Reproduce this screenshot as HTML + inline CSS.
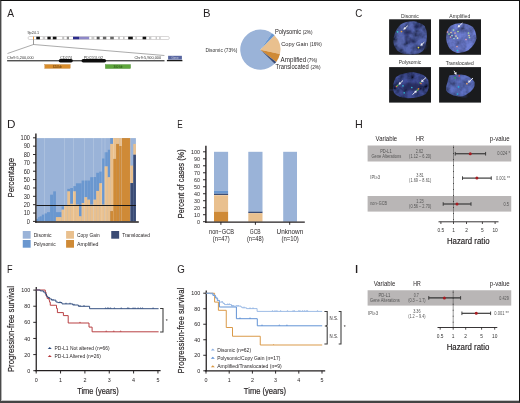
<!DOCTYPE html>
<html><head><meta charset="utf-8"><style>
html,body{margin:0;padding:0;background:#fff;}
body{width:520px;height:403px;overflow:hidden;position:relative;font-family:"Liberation Sans", sans-serif;}
svg{position:absolute;left:0;top:0;will-change:transform;}
svg text{font-family:"Liberation Sans", sans-serif;}
.frame{position:absolute;left:0;top:0;width:520px;height:403px;box-sizing:border-box;border-top:1px solid #111;border-right:1.3px solid #111;border-bottom:2px solid #444;border-left:1px solid #4a4a4a;}
.fl{position:absolute;left:1px;top:1px;width:1px;height:400px;background:#b4b4b4;}
.fb{position:absolute;left:1px;top:400px;width:518px;height:1px;background:#c4c4c4;}
</style></head><body>
<svg width="520" height="403" viewBox="0 0 520 403" fill="#231f20">
<text transform="translate(7.16,16.7) scale(0.88,1)" font-size="11.6">A</text>
<text transform="translate(202.99,16.75) scale(0.975,1)" font-size="11.6">B</text>
<text transform="translate(355.25,16.75) scale(0.846,1)" font-size="11.6">C</text>
<text transform="translate(6.96,127.8) scale(1.01,1)" font-size="11.6">D</text>
<text transform="translate(177.25,127.9) scale(0.707,1)" font-size="11.6">E</text>
<text transform="translate(355.04,127.9) scale(0.93,1)" font-size="11.6">H</text>
<text transform="translate(7.03,272.7) scale(0.786,1)" font-size="11.6">F</text>
<text transform="translate(177.25,272.6) scale(0.84,1)" font-size="11.6">G</text>
<text transform="translate(354.55,272.8) scale(1.3,1)" font-size="11.6">I</text>
<text x="27.50" y="34.00" font-size="4.2" fill="#333" textLength="11.5" lengthAdjust="spacingAndGlyphs">9p24.1</text>
<rect x="28" y="36.5" width="141.4" height="3" rx="1.5" fill="#fff" stroke="#a09a9a" stroke-width="0.4"/>
<rect x="36.30" y="36.70" width="3.60" height="2.60" fill="#111"/>
<rect x="42.70" y="36.70" width="2.50" height="2.60" fill="#c8c8c8"/>
<rect x="47.40" y="36.70" width="3.30" height="2.60" fill="#111"/>
<rect x="52.80" y="36.70" width="3.70" height="2.60" fill="#111"/>
<rect x="62.20" y="36.70" width="2.00" height="2.60" fill="#c0c0c0"/>
<rect x="66.80" y="36.70" width="2.20" height="2.60" fill="#8a8a8a"/>
<rect x="73.00" y="36.70" width="6.00" height="2.60" fill="#2c2c8c"/>
<rect x="79.00" y="36.70" width="10.20" height="2.60" fill="#8e88c8"/>
<rect x="91.40" y="36.70" width="2.90" height="2.60" fill="#c8c8c8"/>
<rect x="96.70" y="36.70" width="2.90" height="2.60" fill="#555"/>
<rect x="102.90" y="36.70" width="3.40" height="2.60" fill="#666"/>
<rect x="110.20" y="36.70" width="3.60" height="2.60" fill="#666"/>
<rect x="118.00" y="36.70" width="2.00" height="2.60" fill="#c0c0c0"/>
<rect x="123.00" y="36.70" width="1.60" height="2.60" fill="#c0c0c0"/>
<rect x="128.20" y="36.70" width="4.60" height="2.60" fill="#111"/>
<rect x="135.40" y="36.70" width="1.40" height="2.60" fill="#c0c0c0"/>
<rect x="142.60" y="36.70" width="3.60" height="2.60" fill="#111"/>
<rect x="149.00" y="36.70" width="2.30" height="2.60" fill="#c8c8c8"/>
<rect x="155.60" y="36.70" width="1.40" height="2.60" fill="#c8c8c8"/>
<rect x="159.20" y="36.70" width="1.50" height="2.60" fill="#c8c8c8"/>
<rect x="33.00" y="36.60" width="0.90" height="2.80" fill="#e88a20"/>
<line x1="33.50" y1="39.50" x2="33.50" y2="44.50" stroke="#333" stroke-width="0.5"/>
<line x1="33.50" y1="44.50" x2="7.50" y2="53.50" stroke="#444" stroke-width="0.45"/>
<line x1="33.50" y1="44.50" x2="164.40" y2="55.50" stroke="#444" stroke-width="0.45"/>
<text x="7.10" y="58.50" font-size="4.0" fill="#333" textLength="26.6" lengthAdjust="spacingAndGlyphs">Chr9:5,200,000</text>
<text x="60.00" y="58.50" font-size="4.0" fill="#333" textLength="12.0" lengthAdjust="spacingAndGlyphs">CD274</text>
<text x="83.80" y="58.50" font-size="4.0" fill="#333" textLength="19.2" lengthAdjust="spacingAndGlyphs">PDCD1LG2</text>
<text x="134.40" y="58.50" font-size="4.0" fill="#333" textLength="26.8" lengthAdjust="spacingAndGlyphs">Chr9:5,900,000</text>
<rect x="7.10" y="60.05" width="157.40" height="1.35" fill="#4a4a4a"/>
<rect x="58.7" y="59.1" width="14.1" height="3.4" rx="1.7" fill="#0d0d0d"/>
<rect x="81.5" y="59.1" width="24.6" height="3.4" rx="1.7" fill="#0d0d0d"/>
<rect x="44.8" y="64.5" width="25.4" height="3.9" fill="#d98d2b" stroke="#b36d1b" stroke-width="0.3"/>
<text x="57.20" y="67.50" font-size="2.9" text-anchor="middle" fill="#4a2a05" textLength="8.8" lengthAdjust="spacingAndGlyphs">324 kb</text>
<rect x="105.3" y="64.5" width="25.3" height="4.1" fill="#5ea63c" stroke="#3e7e26" stroke-width="0.3"/>
<text x="118.00" y="67.60" font-size="2.9" text-anchor="middle" fill="#1f4a10" textLength="8.8" lengthAdjust="spacingAndGlyphs">300 kb</text>
<rect x="166.90" y="59.90" width="15.50" height="1.35" fill="#1a1a1a"/>
<rect x="168.10" y="55.80" width="13.80" height="3.80" fill="#5866a0"/>
<text x="175.00" y="58.60" font-size="2.6" text-anchor="middle" fill="#c8cce0" textLength="7" lengthAdjust="spacingAndGlyphs">Gene</text>
<path d="M260.35,49.65 L274.56,63.86 A20.1,20.1 0 1 1 271.94,33.23 Z" fill="#9ab3d8"/>
<path d="M260.35,49.65 L271.88,33.19 A20.1,20.1 0 0 1 274.64,35.51 Z" fill="#6a97cf"/>
<path d="M260.35,49.65 L274.56,35.44 A20.1,20.1 0 0 1 279.97,54.03 Z" fill="#e9c08e"/>
<path d="M260.35,49.65 L279.97,54.03 A20.1,20.1 0 0 1 276.23,61.97 Z" fill="#cf8a36"/>
<path d="M260.35,49.65 L276.23,61.97 A20.1,20.1 0 0 1 274.56,63.86 Z" fill="#3a4b74"/>
<text x="205.40" y="52.00" font-size="4.9" fill="#333" textLength="31.9" lengthAdjust="spacingAndGlyphs">Disomic (73%)</text>
<text x="275.00" y="33.60" font-size="6.3" textLength="26.2" lengthAdjust="spacingAndGlyphs">Polysomic</text>
<text x="302.70" y="33.60" font-size="5.2" textLength="9.8" lengthAdjust="spacingAndGlyphs">(2%)</text>
<text x="281.20" y="46.00" font-size="6.2" textLength="26.9" lengthAdjust="spacingAndGlyphs">Copy Gain</text>
<text x="309.70" y="46.00" font-size="5.2" textLength="12.2" lengthAdjust="spacingAndGlyphs">(16%)</text>
<text x="280.60" y="61.80" font-size="6.3" textLength="25.6" lengthAdjust="spacingAndGlyphs">Amplified</text>
<text x="307.20" y="61.80" font-size="5.2" textLength="10.0" lengthAdjust="spacingAndGlyphs">(7%)</text>
<text x="275.60" y="69.30" font-size="6.3" textLength="33.1" lengthAdjust="spacingAndGlyphs">Translocated</text>
<text x="310.60" y="69.30" font-size="5.2" textLength="10.0" lengthAdjust="spacingAndGlyphs">(2%)</text>
<defs>
<filter id="bl" x="-50%" y="-50%" width="200%" height="200%"><feGaussianBlur stdDeviation="1.0"/></filter>
<filter id="tex1" x="-10%" y="-10%" width="120%" height="120%">
 <feTurbulence type="fractalNoise" baseFrequency="0.13" numOctaves="3" seed="4" result="n"/>
 <feColorMatrix in="n" type="matrix" values="1.9 0 0 0 -0.28  1.9 0 0 0 -0.28  1.9 0 0 0 -0.28  0 0 0 0 1" result="g"/>
 <feComposite in="SourceGraphic" in2="g" operator="arithmetic" k1="1" k2="0" k3="0" k4="0" result="c"/>
 <feGaussianBlur in="c" stdDeviation="0.75"/>
</filter>
<filter id="tex2" x="-10%" y="-10%" width="120%" height="120%">
 <feTurbulence type="fractalNoise" baseFrequency="0.15" numOctaves="3" seed="11" result="n"/>
 <feColorMatrix in="n" type="matrix" values="1.2 0 0 0 0.12  1.2 0 0 0 0.12  1.2 0 0 0 0.12  0 0 0 0 1" result="g"/>
 <feComposite in="SourceGraphic" in2="g" operator="arithmetic" k1="1" k2="0" k3="0" k4="0" result="c"/>
 <feGaussianBlur in="c" stdDeviation="0.6"/>
</filter>
</defs>
<rect x="389.10" y="19.30" width="41.90" height="35.50" fill="#1a1b1d"/>
<svg x="389.1" y="19.3" width="41.9" height="35.5" viewBox="389.1 19.3 41.9 35.5" overflow="hidden"><path d="M414,21.2 Q420,22 424.7,26.1 Q428,33 426.5,41.3 Q425,48 422.9,51.1 Q418,55 411.3,54.6 Q401,54.5 397,50.3 Q392.5,45 393.6,38.6 Q394.5,30 400.6,24.4 Q406,21 414,21.2 Z" fill="#5666b0" filter="url(#tex1)"/><ellipse cx="407.5" cy="32.3" rx="4.2" ry="1.5" fill="#1c2048" filter="url(#bl)" transform="rotate(-20 407.5 32.3)"/><ellipse cx="413.2" cy="41.3" rx="3.2" ry="1.7" fill="#1c2048" filter="url(#bl)" transform="rotate(20 413.2 41.3)"/><ellipse cx="416.5" cy="26.5" rx="2.6" ry="2.2" fill="#1e2450" filter="url(#bl)"/><ellipse cx="406.3" cy="38.5" rx="1.1" ry="3.5" fill="#252c5c" filter="url(#bl)"/><ellipse cx="424" cy="46" rx="2" ry="3" fill="#2a3060" filter="url(#bl)"/><ellipse cx="400" cy="42" rx="4" ry="6" fill="#6676c0" opacity="0.5" filter="url(#bl)"/>
<circle cx="401.5" cy="31.5" r="0.85" fill="#e8a040"/>
<circle cx="397.5" cy="31.8" r="0.85" fill="#30c8c8"/>
<circle cx="418.5" cy="47.6" r="0.85" fill="#e8e050"/>
<line x1="407.80" y1="25.70" x2="404.42" y2="28.70" stroke="#f2f2f6" stroke-width="0.95"/>
<polygon points="403.30,29.70 406.13,29.12 404.21,26.96" fill="#f2f2f6"/>
<line x1="424.30" y1="42.20" x2="421.41" y2="44.80" stroke="#f2f2f6" stroke-width="0.95"/>
<polygon points="420.30,45.80 423.13,45.21 421.19,43.05" fill="#f2f2f6"/>
</svg>
<text x="409.90" y="17.75" font-size="4.9" text-anchor="middle" fill="#333" textLength="17.8" lengthAdjust="spacingAndGlyphs">Disomic</text>
<rect x="439.10" y="19.30" width="41.90" height="35.50" fill="#1a1b1d"/>
<svg x="439.1" y="19.3" width="41.9" height="35.5" viewBox="439.1 19.3 41.9 35.5" overflow="hidden"><path d="M450.6,25.7 Q455,23 461.3,23 Q468,23.5 472.9,27 Q476.5,32 476.5,38.6 Q475,45 468.5,50.3 Q463,53.5 456.9,52.9 Q452,51.5 449.7,48.5 Q446,43 446.1,36.9 Q446.5,29.5 450.6,25.7 Z" fill="#7080d6" filter="url(#tex2)"/>
<circle cx="447.5" cy="32" r="0.85" fill="#e0a0a0"/>
<circle cx="449" cy="34" r="0.85" fill="#a0e0a0"/>
<circle cx="451" cy="32.5" r="0.85" fill="#e0c8a0"/>
<circle cx="452" cy="35.5" r="0.85" fill="#a0e0e0"/>
<circle cx="450.5" cy="37" r="0.85" fill="#e0a0c0"/>
<circle cx="453.5" cy="30" r="0.85" fill="#b0e8a0"/>
<circle cx="456" cy="36" r="0.85" fill="#e8e0a0"/>
<circle cx="457.5" cy="38" r="0.85" fill="#f0f0c0"/>
<circle cx="454" cy="38.5" r="0.85" fill="#a0d8e0"/>
<circle cx="455" cy="33" r="0.85" fill="#e0a8a8"/>
<circle cx="458" cy="31.5" r="0.85" fill="#b0e0a0"/>
<circle cx="468.5" cy="33" r="0.85" fill="#b0e0a0"/>
<circle cx="469" cy="35.5" r="0.85" fill="#e8d0a0"/>
<circle cx="469.5" cy="37.5" r="0.85" fill="#b0e0a0"/>
<circle cx="466" cy="39.5" r="0.85" fill="#e0a0c0"/>
<circle cx="457" cy="46.5" r="0.85" fill="#e0a0a0"/>
<circle cx="457.4" cy="50.5" r="0.85" fill="#20c0e0"/>
<line x1="462.50" y1="23.00" x2="458.61" y2="26.50" stroke="#f2f2f6" stroke-width="0.95"/>
<polygon points="457.50,27.50 460.33,26.91 458.39,24.75" fill="#f2f2f6"/>
</svg>
<text x="459.80" y="17.60" font-size="4.9" text-anchor="middle" fill="#333" textLength="20.9" lengthAdjust="spacingAndGlyphs">Amplified</text>
<rect x="389.10" y="67.10" width="41.90" height="35.50" fill="#1a1b1d"/>
<svg x="389.1" y="67.1" width="41.9" height="35.5" viewBox="389.1 67.1 41.9 35.5" overflow="hidden"><path d="M396,77 Q404,72 415,72.4 Q425,73.5 428.3,80 Q430,88 426,94 Q418,98.3 408,98.3 Q398,98 394,93 Q391,86 396,77 Z" fill="#42509a" filter="url(#tex1)"/><path d="M389,90.5 Q392,89 396,90" stroke="#3a4680" stroke-width="1" fill="none" filter="url(#bl)"/><ellipse cx="411" cy="86.5" rx="9" ry="4" fill="#262b58" opacity="0.8" filter="url(#bl)"/>
<circle cx="396.5" cy="86.5" r="0.85" fill="#e07050"/>
<circle cx="397.5" cy="85.5" r="0.85" fill="#50c050"/>
<circle cx="403" cy="85.8" r="0.85" fill="#30b0d0"/>
<circle cx="411.8" cy="87.5" r="0.85" fill="#30b0d0"/>
<circle cx="404.2" cy="92.8" r="0.85" fill="#30b0d0"/>
<circle cx="420.2" cy="82.8" r="0.85" fill="#50c050"/>
<circle cx="421" cy="83.5" r="0.85" fill="#e07050"/>
<circle cx="418.5" cy="88.8" r="0.85" fill="#e08030"/>
<circle cx="417.5" cy="90" r="0.85" fill="#50c050"/>
<line x1="403.00" y1="80.50" x2="399.58" y2="83.76" stroke="#f2f2f6" stroke-width="0.95"/>
<polygon points="398.50,84.80 401.31,84.12 399.31,82.02" fill="#f2f2f6"/>
<line x1="426.00" y1="77.50" x2="422.11" y2="81.00" stroke="#f2f2f6" stroke-width="0.95"/>
<polygon points="421.00,82.00 423.83,81.41 421.89,79.25" fill="#f2f2f6"/>
<line x1="412.50" y1="94.50" x2="415.88" y2="91.50" stroke="#f2f2f6" stroke-width="0.95"/>
<polygon points="417.00,90.50 414.17,91.08 416.09,93.24" fill="#f2f2f6"/>
</svg>
<text x="410.00" y="64.40" font-size="4.9" text-anchor="middle" fill="#333" textLength="22.5" lengthAdjust="spacingAndGlyphs">Polysomic</text>
<rect x="439.10" y="67.10" width="41.90" height="35.50" fill="#1a1b1d"/>
<svg x="439.1" y="67.1" width="41.9" height="35.5" viewBox="439.1 67.1 41.9 35.5" overflow="hidden"><path d="M449.3,75.5 Q455,74.2 461.3,74.6 Q466,75 468.5,76.4 Q473,78.5 474.7,82.2 Q475,86 473.4,88.4 Q470,93 465.8,95.1 Q462,97 458.6,96.5 Q453,95.8 449.7,93.8 Q446.5,92 446.1,90.2 Q446,85 447.5,82.2 Q448,78 449.3,75.5 Z" fill="#5f72c4" filter="url(#tex2)"/><ellipse cx="464" cy="96" rx="3" ry="0.8" fill="#3a4888" filter="url(#bl)"/>
<circle cx="455.1" cy="77.8" r="0.85" fill="#30b050"/>
<circle cx="459.2" cy="75.8" r="0.85" fill="#e04060"/>
<circle cx="466.9" cy="83.7" r="0.85" fill="#e0a070"/>
<circle cx="458.6" cy="86.9" r="0.85" fill="#20b0e0"/>
<circle cx="457.5" cy="94.0" r="0.85" fill="#20b0e0"/>
<line x1="454.00" y1="70.80" x2="455.73" y2="73.71" stroke="#f2f2f6" stroke-width="0.95"/>
<polygon points="456.50,75.00 456.47,72.11 453.98,73.59" fill="#f2f2f6"/>
<line x1="473.00" y1="78.00" x2="469.08" y2="81.76" stroke="#f2f2f6" stroke-width="0.95"/>
<polygon points="468.00,82.80 470.81,82.11 468.80,80.02" fill="#f2f2f6"/>
</svg>
<text x="459.70" y="64.90" font-size="4.9" text-anchor="middle" fill="#333" textLength="28.1" lengthAdjust="spacingAndGlyphs">Translocated</text>
<rect x="36.50" y="138.10" width="99.40" height="83.20" fill="#9ab3d8"/>
<rect x="36.50" y="218.80" width="1.72" height="2.50" fill="#6a97cf"/>
<rect x="38.20" y="217.14" width="1.52" height="4.16" fill="#6a97cf"/>
<rect x="39.70" y="216.31" width="2.12" height="4.99" fill="#6a97cf"/>
<rect x="41.80" y="214.64" width="2.62" height="6.66" fill="#6a97cf"/>
<rect x="44.40" y="213.40" width="2.62" height="7.90" fill="#6a97cf"/>
<rect x="47.00" y="212.15" width="3.12" height="9.15" fill="#6a97cf"/>
<rect x="50.10" y="194.68" width="3.12" height="26.62" fill="#6a97cf"/>
<rect x="53.20" y="191.35" width="2.72" height="29.95" fill="#6a97cf"/>
<rect x="55.90" y="212.15" width="5.72" height="4.99" fill="#6a97cf"/>
<rect x="55.90" y="217.14" width="5.72" height="4.16" fill="#e9c08e"/>
<rect x="61.60" y="206.32" width="2.62" height="3.33" fill="#6a97cf"/>
<rect x="61.60" y="209.65" width="2.62" height="11.65" fill="#e9c08e"/>
<rect x="64.20" y="205.49" width="3.12" height="15.81" fill="#e9c08e"/>
<rect x="67.30" y="188.85" width="2.92" height="2.50" fill="#6a97cf"/>
<rect x="67.30" y="191.35" width="2.92" height="29.95" fill="#e9c08e"/>
<rect x="70.20" y="188.02" width="2.82" height="15.81" fill="#6a97cf"/>
<rect x="70.20" y="203.83" width="2.82" height="17.47" fill="#e9c08e"/>
<rect x="73.00" y="186.11" width="2.92" height="5.24" fill="#6a97cf"/>
<rect x="73.00" y="191.35" width="2.92" height="29.95" fill="#e9c08e"/>
<rect x="75.90" y="183.28" width="3.12" height="21.38" fill="#6a97cf"/>
<rect x="75.90" y="204.66" width="3.12" height="16.64" fill="#e9c08e"/>
<rect x="79.00" y="183.28" width="2.62" height="33.03" fill="#6a97cf"/>
<rect x="79.00" y="216.31" width="2.62" height="4.99" fill="#e9c08e"/>
<rect x="81.60" y="180.53" width="2.82" height="22.46" fill="#6a97cf"/>
<rect x="81.60" y="203.00" width="2.82" height="18.30" fill="#e9c08e"/>
<rect x="84.40" y="180.53" width="3.02" height="16.64" fill="#6a97cf"/>
<rect x="84.40" y="197.17" width="3.02" height="24.13" fill="#e9c08e"/>
<rect x="87.40" y="180.53" width="2.82" height="19.14" fill="#6a97cf"/>
<rect x="87.40" y="199.67" width="2.82" height="21.63" fill="#e9c08e"/>
<rect x="90.20" y="177.20" width="3.22" height="27.46" fill="#6a97cf"/>
<rect x="90.20" y="204.66" width="3.22" height="16.64" fill="#e9c08e"/>
<rect x="93.40" y="177.04" width="2.82" height="22.63" fill="#6a97cf"/>
<rect x="93.40" y="199.67" width="2.82" height="21.63" fill="#e9c08e"/>
<rect x="96.20" y="172.79" width="3.02" height="18.14" fill="#6a97cf"/>
<rect x="96.20" y="190.93" width="3.02" height="30.37" fill="#e9c08e"/>
<rect x="99.20" y="171.63" width="2.82" height="11.56" fill="#6a97cf"/>
<rect x="99.20" y="183.19" width="2.82" height="38.11" fill="#e9c08e"/>
<rect x="102.00" y="158.48" width="2.62" height="46.18" fill="#6a97cf"/>
<rect x="102.00" y="204.66" width="2.62" height="16.64" fill="#e9c08e"/>
<rect x="104.60" y="152.24" width="3.22" height="14.14" fill="#6a97cf"/>
<rect x="104.60" y="166.39" width="3.22" height="54.91" fill="#e9c08e"/>
<rect x="107.80" y="149.75" width="2.42" height="27.46" fill="#6a97cf"/>
<rect x="107.80" y="177.20" width="2.42" height="44.10" fill="#e9c08e"/>
<rect x="110.20" y="138.10" width="2.82" height="5.82" fill="#6a97cf"/>
<rect x="110.20" y="143.92" width="2.82" height="67.14" fill="#e9c08e"/>
<rect x="110.20" y="211.07" width="2.82" height="10.23" fill="#cf8a36"/>
<rect x="113.00" y="138.10" width="3.12" height="20.80" fill="#e9c08e"/>
<rect x="113.00" y="158.90" width="3.12" height="62.40" fill="#cf8a36"/>
<rect x="116.10" y="138.10" width="3.22" height="5.82" fill="#e9c08e"/>
<rect x="116.10" y="143.92" width="3.22" height="77.38" fill="#cf8a36"/>
<rect x="119.30" y="138.10" width="2.62" height="7.90" fill="#e9c08e"/>
<rect x="119.30" y="146.00" width="2.62" height="75.30" fill="#cf8a36"/>
<rect x="121.90" y="138.10" width="8.32" height="83.20" fill="#cf8a36"/>
<rect x="130.20" y="165.56" width="3.12" height="17.47" fill="#e9c08e"/>
<rect x="130.20" y="183.03" width="3.12" height="38.27" fill="#3a4b74"/>
<rect x="133.30" y="143.92" width="2.62" height="10.82" fill="#e9c08e"/>
<rect x="133.30" y="154.74" width="2.62" height="66.56" fill="#3a4b74"/>
<rect x="44.15" y="138.10" width="0.50" height="83.20" fill="rgba(255,255,255,0.35)"/>
<rect x="64.15" y="138.10" width="0.50" height="83.20" fill="rgba(255,255,255,0.35)"/>
<rect x="73.35" y="138.10" width="0.50" height="83.20" fill="rgba(255,255,255,0.35)"/>
<rect x="84.25" y="138.10" width="0.50" height="83.20" fill="rgba(255,255,255,0.35)"/>
<rect x="93.35" y="138.10" width="0.50" height="83.20" fill="rgba(255,255,255,0.35)"/>
<rect x="101.65" y="138.10" width="0.50" height="83.20" fill="rgba(255,255,255,0.35)"/>
<rect x="104.75" y="138.10" width="0.50" height="83.20" fill="rgba(255,255,255,0.35)"/>
<rect x="113.05" y="138.10" width="0.50" height="83.20" fill="rgba(255,255,255,0.35)"/>
<rect x="121.15" y="138.10" width="0.50" height="83.20" fill="rgba(255,255,255,0.35)"/>
<rect x="129.95" y="138.10" width="0.50" height="83.20" fill="rgba(255,255,255,0.35)"/>
<line x1="36.20" y1="205.50" x2="135.90" y2="205.50" stroke="#111" stroke-width="0.95"/>
<line x1="35.90" y1="133.60" x2="35.90" y2="222.70" stroke="#231f20" stroke-width="1.4"/>
<line x1="35.20" y1="222.00" x2="138.80" y2="222.00" stroke="#231f20" stroke-width="1.4"/>
<line x1="33.00" y1="221.40" x2="35.90" y2="221.40" stroke="#231f20" stroke-width="0.95"/>
<text transform="translate(30.00,223.70) scale(0.9,1)" font-size="6.3" text-anchor="end">0</text>
<line x1="33.00" y1="213.04" x2="35.90" y2="213.04" stroke="#231f20" stroke-width="0.95"/>
<text transform="translate(30.00,215.34) scale(0.9,1)" font-size="6.3" text-anchor="end">10</text>
<line x1="33.00" y1="204.68" x2="35.90" y2="204.68" stroke="#231f20" stroke-width="0.95"/>
<text transform="translate(30.00,206.98) scale(0.9,1)" font-size="6.3" text-anchor="end">20</text>
<line x1="33.00" y1="196.32" x2="35.90" y2="196.32" stroke="#231f20" stroke-width="0.95"/>
<text transform="translate(30.00,198.62) scale(0.9,1)" font-size="6.3" text-anchor="end">30</text>
<line x1="33.00" y1="187.96" x2="35.90" y2="187.96" stroke="#231f20" stroke-width="0.95"/>
<text transform="translate(30.00,190.26) scale(0.9,1)" font-size="6.3" text-anchor="end">40</text>
<line x1="33.00" y1="179.60" x2="35.90" y2="179.60" stroke="#231f20" stroke-width="0.95"/>
<text transform="translate(30.00,181.90) scale(0.9,1)" font-size="6.3" text-anchor="end">50</text>
<line x1="33.00" y1="171.24" x2="35.90" y2="171.24" stroke="#231f20" stroke-width="0.95"/>
<text transform="translate(30.00,173.54) scale(0.9,1)" font-size="6.3" text-anchor="end">60</text>
<line x1="33.00" y1="162.88" x2="35.90" y2="162.88" stroke="#231f20" stroke-width="0.95"/>
<text transform="translate(30.00,165.18) scale(0.9,1)" font-size="6.3" text-anchor="end">70</text>
<line x1="33.00" y1="154.52" x2="35.90" y2="154.52" stroke="#231f20" stroke-width="0.95"/>
<text transform="translate(30.00,156.82) scale(0.9,1)" font-size="6.3" text-anchor="end">80</text>
<line x1="33.00" y1="146.16" x2="35.90" y2="146.16" stroke="#231f20" stroke-width="0.95"/>
<text transform="translate(30.00,148.46) scale(0.9,1)" font-size="6.3" text-anchor="end">90</text>
<line x1="33.00" y1="137.80" x2="35.90" y2="137.80" stroke="#231f20" stroke-width="0.95"/>
<text transform="translate(30.00,140.10) scale(0.9,1)" font-size="6.3" text-anchor="end">100</text>
<text x="14.40" y="177.70" font-size="8.6" text-anchor="middle" textLength="39.6" lengthAdjust="spacingAndGlyphs" transform="rotate(-90 14.40 177.70)" stroke="#231f20" stroke-width="0.18">Percentage</text>
<rect x="22.75" y="231.00" width="7.90" height="7.70" fill="#9ab3d8"/>
<text x="33.65" y="236.55" font-size="5.3" textLength="17.9" lengthAdjust="spacingAndGlyphs">Disomic</text>
<rect x="22.75" y="240.00" width="7.90" height="7.70" fill="#6a97cf"/>
<text x="33.65" y="245.55" font-size="5.3" textLength="21.9" lengthAdjust="spacingAndGlyphs">Polysomic</text>
<rect x="66.10" y="231.00" width="7.90" height="7.70" fill="#e9c08e"/>
<text x="77.00" y="236.55" font-size="5.3" textLength="22.7" lengthAdjust="spacingAndGlyphs">Copy Gain</text>
<rect x="66.10" y="240.00" width="7.90" height="7.70" fill="#cf8a36"/>
<text x="77.00" y="245.55" font-size="5.3" textLength="21.5" lengthAdjust="spacingAndGlyphs">Amplified</text>
<rect x="111.25" y="231.00" width="7.90" height="7.70" fill="#3a4b74"/>
<text x="122.15" y="236.55" font-size="5.3" textLength="27.8" lengthAdjust="spacingAndGlyphs">Translocated</text>
<rect x="214.00" y="151.80" width="14.10" height="39.14" fill="#9ab3d8"/>
<rect x="214.00" y="190.94" width="14.10" height="2.80" fill="#6a97cf"/>
<rect x="214.00" y="193.74" width="14.10" height="1.40" fill="#3a4b74"/>
<rect x="214.00" y="195.14" width="14.10" height="16.50" fill="#e9c08e"/>
<rect x="214.00" y="211.63" width="14.10" height="10.07" fill="#cf8a36"/>
<rect x="214.00" y="194.99" width="14.10" height="0.50" fill="#f3d7b3"/>
<rect x="248.30" y="151.80" width="14.20" height="59.41" fill="#9ab3d8"/>
<rect x="248.30" y="211.21" width="14.20" height="0.42" fill="#6a97cf"/>
<rect x="248.30" y="211.63" width="14.20" height="1.54" fill="#3a4b74"/>
<rect x="248.30" y="213.17" width="14.20" height="8.53" fill="#e9c08e"/>
<rect x="283.20" y="151.80" width="13.80" height="69.90" fill="#9ab3d8"/>
<line x1="205.90" y1="145.80" x2="205.90" y2="222.80" stroke="#231f20" stroke-width="1.4"/>
<line x1="205.20" y1="222.10" x2="304.80" y2="222.10" stroke="#231f20" stroke-width="1.3"/>
<line x1="203.00" y1="221.70" x2="205.90" y2="221.70" stroke="#231f20" stroke-width="0.95"/>
<text transform="translate(200.00,223.85) scale(0.9,1)" font-size="6.0" text-anchor="end">0</text>
<line x1="203.00" y1="214.71" x2="205.90" y2="214.71" stroke="#231f20" stroke-width="0.95"/>
<text transform="translate(200.00,216.86) scale(0.9,1)" font-size="6.0" text-anchor="end">10</text>
<line x1="203.00" y1="207.72" x2="205.90" y2="207.72" stroke="#231f20" stroke-width="0.95"/>
<text transform="translate(200.00,209.87) scale(0.9,1)" font-size="6.0" text-anchor="end">20</text>
<line x1="203.00" y1="200.73" x2="205.90" y2="200.73" stroke="#231f20" stroke-width="0.95"/>
<text transform="translate(200.00,202.88) scale(0.9,1)" font-size="6.0" text-anchor="end">30</text>
<line x1="203.00" y1="193.74" x2="205.90" y2="193.74" stroke="#231f20" stroke-width="0.95"/>
<text transform="translate(200.00,195.89) scale(0.9,1)" font-size="6.0" text-anchor="end">40</text>
<line x1="203.00" y1="186.75" x2="205.90" y2="186.75" stroke="#231f20" stroke-width="0.95"/>
<text transform="translate(200.00,188.90) scale(0.9,1)" font-size="6.0" text-anchor="end">50</text>
<line x1="203.00" y1="179.76" x2="205.90" y2="179.76" stroke="#231f20" stroke-width="0.95"/>
<text transform="translate(200.00,181.91) scale(0.9,1)" font-size="6.0" text-anchor="end">60</text>
<line x1="203.00" y1="172.77" x2="205.90" y2="172.77" stroke="#231f20" stroke-width="0.95"/>
<text transform="translate(200.00,174.92) scale(0.9,1)" font-size="6.0" text-anchor="end">70</text>
<line x1="203.00" y1="165.78" x2="205.90" y2="165.78" stroke="#231f20" stroke-width="0.95"/>
<text transform="translate(200.00,167.93) scale(0.9,1)" font-size="6.0" text-anchor="end">80</text>
<line x1="203.00" y1="158.79" x2="205.90" y2="158.79" stroke="#231f20" stroke-width="0.95"/>
<text transform="translate(200.00,160.94) scale(0.9,1)" font-size="6.0" text-anchor="end">90</text>
<line x1="203.00" y1="151.80" x2="205.90" y2="151.80" stroke="#231f20" stroke-width="0.95"/>
<text transform="translate(200.00,153.95) scale(0.9,1)" font-size="6.0" text-anchor="end">100</text>
<line x1="220.90" y1="222.00" x2="220.90" y2="224.80" stroke="#231f20" stroke-width="0.95"/>
<line x1="255.40" y1="222.00" x2="255.40" y2="224.80" stroke="#231f20" stroke-width="0.95"/>
<line x1="289.70" y1="222.00" x2="289.70" y2="224.80" stroke="#231f20" stroke-width="0.95"/>
<text x="221.50" y="233.90" font-size="6.4" text-anchor="middle" textLength="25.0" lengthAdjust="spacingAndGlyphs">non−GCB</text>
<text x="221.20" y="240.60" font-size="6.4" text-anchor="middle" textLength="16.8" lengthAdjust="spacingAndGlyphs">(n=47)</text>
<text x="255.20" y="233.90" font-size="6.4" text-anchor="middle" textLength="10.8" lengthAdjust="spacingAndGlyphs">GCB</text>
<text x="255.30" y="240.60" font-size="6.4" text-anchor="middle" textLength="16.8" lengthAdjust="spacingAndGlyphs">(n=48)</text>
<text x="289.90" y="233.90" font-size="6.4" text-anchor="middle" textLength="26.6" lengthAdjust="spacingAndGlyphs">Unknown</text>
<text x="290.10" y="240.60" font-size="6.4" text-anchor="middle" textLength="17.4" lengthAdjust="spacingAndGlyphs">(n=10)</text>
<text x="184.40" y="183.75" font-size="8.6" text-anchor="middle" textLength="68.9" lengthAdjust="spacingAndGlyphs" transform="rotate(-90 184.40 183.75)" stroke="#231f20" stroke-width="0.18">Percent of cases (%)</text>
<text x="386.40" y="141.25" font-size="6.3" text-anchor="middle" textLength="21.6" lengthAdjust="spacingAndGlyphs">Variable</text>
<text x="420.00" y="141.10" font-size="6.3" text-anchor="middle" textLength="8.0" lengthAdjust="spacingAndGlyphs">HR</text>
<text x="509.75" y="141.25" font-size="6.3" text-anchor="end" textLength="20.0" lengthAdjust="spacingAndGlyphs">p-value</text>
<rect x="367.60" y="145.50" width="143.65" height="16.00" fill="#b9b6b6"/>
<rect x="367.60" y="196.00" width="143.65" height="15.60" fill="#b9b6b6"/>
<text x="385.90" y="152.75" font-size="4.7" text-anchor="middle" fill="#555" textLength="11.5" lengthAdjust="spacingAndGlyphs">PD-L1</text>
<text x="386.35" y="157.90" font-size="4.7" text-anchor="middle" fill="#555" textLength="29.9" lengthAdjust="spacingAndGlyphs">Gene Alterations</text>
<text x="419.50" y="152.75" font-size="4.7" text-anchor="middle" fill="#555" textLength="7.4" lengthAdjust="spacingAndGlyphs">2.62</text>
<text x="420.20" y="157.90" font-size="4.7" text-anchor="middle" fill="#555" textLength="22.2" lengthAdjust="spacingAndGlyphs">(1.12 – 6.20)</text>
<text x="510.00" y="155.20" font-size="4.7" text-anchor="end" fill="#555" textLength="12.8" lengthAdjust="spacingAndGlyphs">0.024 *</text>
<text x="370.25" y="179.20" font-size="4.7" fill="#555" textLength="9.8" lengthAdjust="spacingAndGlyphs">IPI≥3</text>
<text x="420.00" y="176.70" font-size="4.7" text-anchor="middle" fill="#555" textLength="7.4" lengthAdjust="spacingAndGlyphs">3.81</text>
<text x="420.20" y="182.30" font-size="4.7" text-anchor="middle" fill="#555" textLength="22.2" lengthAdjust="spacingAndGlyphs">(1.69 – 8.61)</text>
<text x="510.00" y="179.70" font-size="4.7" text-anchor="end" fill="#555" textLength="14.0" lengthAdjust="spacingAndGlyphs">0.001 **</text>
<text x="370.25" y="205.40" font-size="4.7" fill="#555" textLength="16.7" lengthAdjust="spacingAndGlyphs">non−GCB</text>
<text x="420.00" y="202.90" font-size="4.7" text-anchor="middle" fill="#555" textLength="7.4" lengthAdjust="spacingAndGlyphs">1.23</text>
<text x="420.20" y="208.20" font-size="4.7" text-anchor="middle" fill="#555" textLength="22.2" lengthAdjust="spacingAndGlyphs">(0.56 – 2.70)</text>
<text x="509.00" y="205.60" font-size="4.7" text-anchor="end" fill="#555" textLength="5.5" lengthAdjust="spacingAndGlyphs">0.5</text>
<line x1="453.50" y1="145.50" x2="453.50" y2="221.80" stroke="#555" stroke-width="0.6"/>
<line x1="453.50" y1="147.00" x2="453.50" y2="221.80" stroke="#222" stroke-width="0.75" stroke-dasharray="0.9 5.1"/>
<line x1="438.50" y1="221.80" x2="498.50" y2="221.80" stroke="#231f20" stroke-width="0.9"/>
<line x1="440.90" y1="221.80" x2="440.90" y2="224.00" stroke="#231f20" stroke-width="0.8"/>
<text x="440.90" y="231.60" font-size="4.8" text-anchor="middle" fill="#333">0.5</text>
<line x1="453.50" y1="221.80" x2="453.50" y2="224.00" stroke="#231f20" stroke-width="0.8"/>
<text x="453.50" y="231.60" font-size="4.8" text-anchor="middle" fill="#333">1</text>
<line x1="466.50" y1="221.80" x2="466.50" y2="224.00" stroke="#231f20" stroke-width="0.8"/>
<text x="466.50" y="231.60" font-size="4.8" text-anchor="middle" fill="#333">2</text>
<line x1="482.40" y1="221.80" x2="482.40" y2="224.00" stroke="#231f20" stroke-width="0.8"/>
<text x="482.40" y="231.60" font-size="4.8" text-anchor="middle" fill="#333">5</text>
<line x1="495.10" y1="221.80" x2="495.10" y2="224.00" stroke="#231f20" stroke-width="0.8"/>
<text x="495.10" y="231.60" font-size="4.8" text-anchor="middle" fill="#333">10</text>
<text x="468.25" y="243.70" font-size="8.6" text-anchor="middle" textLength="42.6" lengthAdjust="spacingAndGlyphs" stroke="#231f20" stroke-width="0.18">Hazard ratio</text>
<line x1="455.25" y1="153.75" x2="485.60" y2="153.75" stroke="#333" stroke-width="1.15"/>
<line x1="455.25" y1="151.95" x2="455.25" y2="155.55" stroke="#333" stroke-width="0.9"/>
<line x1="485.60" y1="151.95" x2="485.60" y2="155.55" stroke="#333" stroke-width="0.9"/>
<circle cx="470.25" cy="153.75" r="1.5" fill="#a81c22"/>
<line x1="462.50" y1="178.10" x2="491.25" y2="178.10" stroke="#333" stroke-width="1.15"/>
<line x1="462.50" y1="176.30" x2="462.50" y2="179.90" stroke="#333" stroke-width="0.9"/>
<line x1="491.25" y1="176.30" x2="491.25" y2="179.90" stroke="#333" stroke-width="0.9"/>
<circle cx="476.9" cy="178.1" r="1.5" fill="#a81c22"/>
<line x1="443.20" y1="204.00" x2="471.00" y2="204.00" stroke="#333" stroke-width="1.15"/>
<line x1="443.20" y1="202.20" x2="443.20" y2="205.80" stroke="#333" stroke-width="0.9"/>
<line x1="471.00" y1="202.20" x2="471.00" y2="205.80" stroke="#333" stroke-width="0.9"/>
<circle cx="457.0" cy="204.0" r="1.5" fill="#a81c22"/>
<text x="384.50" y="285.60" font-size="6.3" text-anchor="middle" textLength="21.5" lengthAdjust="spacingAndGlyphs">Variable</text>
<text x="416.90" y="285.60" font-size="6.3" text-anchor="middle" textLength="7.5" lengthAdjust="spacingAndGlyphs">HR</text>
<text x="509.75" y="285.60" font-size="6.3" text-anchor="end" textLength="20.0" lengthAdjust="spacingAndGlyphs">p-value</text>
<rect x="367.60" y="290.25" width="143.65" height="15.35" fill="#b9b6b6"/>
<text x="384.40" y="297.10" font-size="4.7" text-anchor="middle" fill="#555" textLength="11.8" lengthAdjust="spacingAndGlyphs">PD-L1</text>
<text x="384.90" y="301.90" font-size="4.7" text-anchor="middle" fill="#555" textLength="29.8" lengthAdjust="spacingAndGlyphs">Gene Alterations</text>
<text x="416.25" y="296.70" font-size="4.7" text-anchor="middle" fill="#555" textLength="5.0" lengthAdjust="spacingAndGlyphs">0.7</text>
<text x="416.90" y="301.70" font-size="4.7" text-anchor="middle" fill="#555" textLength="17.5" lengthAdjust="spacingAndGlyphs">(0.3 – 1.7)</text>
<text x="508.75" y="299.60" font-size="4.7" text-anchor="end" fill="#555" textLength="9.4" lengthAdjust="spacingAndGlyphs">0.429</text>
<text x="368.10" y="314.80" font-size="4.7" fill="#555" textLength="10.0" lengthAdjust="spacingAndGlyphs">IPI≥3</text>
<text x="416.90" y="313.00" font-size="4.7" text-anchor="middle" fill="#555" textLength="7.4" lengthAdjust="spacingAndGlyphs">3.36</text>
<text x="416.90" y="317.70" font-size="4.7" text-anchor="middle" fill="#555" textLength="17.5" lengthAdjust="spacingAndGlyphs">(1.2 – 9.4)</text>
<text x="508.75" y="315.00" font-size="4.7" text-anchor="end" fill="#555" textLength="14.4" lengthAdjust="spacingAndGlyphs">0.001 **</text>
<g transform="translate(-0.3,0)">
<line x1="453.50" y1="290.25" x2="453.50" y2="327.50" stroke="#555" stroke-width="0.6"/>
<line x1="453.50" y1="291.75" x2="453.50" y2="327.50" stroke="#222" stroke-width="0.75" stroke-dasharray="0.9 5.1"/>
<line x1="437.80" y1="327.50" x2="497.60" y2="327.50" stroke="#231f20" stroke-width="0.9"/>
<line x1="440.50" y1="327.50" x2="440.50" y2="329.70" stroke="#231f20" stroke-width="0.8"/>
<text x="440.50" y="337.80" font-size="4.8" text-anchor="middle" fill="#333">0.5</text>
<line x1="453.50" y1="327.50" x2="453.50" y2="329.70" stroke="#231f20" stroke-width="0.8"/>
<text x="453.50" y="337.80" font-size="4.8" text-anchor="middle" fill="#333">1</text>
<line x1="466.00" y1="327.50" x2="466.00" y2="329.70" stroke="#231f20" stroke-width="0.8"/>
<text x="466.00" y="337.80" font-size="4.8" text-anchor="middle" fill="#333">2</text>
<line x1="481.90" y1="327.50" x2="481.90" y2="329.70" stroke="#231f20" stroke-width="0.8"/>
<text x="481.90" y="337.80" font-size="4.8" text-anchor="middle" fill="#333">5</text>
<line x1="495.00" y1="327.50" x2="495.00" y2="329.70" stroke="#231f20" stroke-width="0.8"/>
<text x="495.00" y="337.80" font-size="4.8" text-anchor="middle" fill="#333">10</text>
<text x="468.25" y="349.60" font-size="8.6" text-anchor="middle" textLength="42.6" lengthAdjust="spacingAndGlyphs" stroke="#231f20" stroke-width="0.18">Hazard ratio</text>
</g>
<line x1="428.75" y1="297.90" x2="460.60" y2="297.90" stroke="#333" stroke-width="1.15"/>
<line x1="428.75" y1="296.10" x2="428.75" y2="299.70" stroke="#333" stroke-width="0.9"/>
<line x1="460.60" y1="296.10" x2="460.60" y2="299.70" stroke="#333" stroke-width="0.9"/>
<circle cx="444.4" cy="297.9" r="1.5" fill="#a81c22"/>
<line x1="461.90" y1="313.30" x2="490.60" y2="313.30" stroke="#333" stroke-width="1.15"/>
<line x1="461.90" y1="311.50" x2="461.90" y2="315.10" stroke="#333" stroke-width="0.9"/>
<line x1="490.60" y1="311.50" x2="490.60" y2="315.10" stroke="#333" stroke-width="0.9"/>
<circle cx="476.25" cy="313.3" r="1.5" fill="#a81c22"/>
<line x1="36.25" y1="286.90" x2="36.25" y2="371.20" stroke="#231f20" stroke-width="1.25"/>
<line x1="34.85" y1="370.70" x2="160.60" y2="370.70" stroke="#231f20" stroke-width="1.25"/>
<line x1="33.25" y1="370.70" x2="36.25" y2="370.70" stroke="#231f20" stroke-width="0.95"/>
<text transform="translate(30.30,372.85) scale(0.9,1)" font-size="6.0" text-anchor="end">0</text>
<line x1="33.25" y1="354.58" x2="36.25" y2="354.58" stroke="#231f20" stroke-width="0.95"/>
<text transform="translate(30.30,356.73) scale(0.9,1)" font-size="6.0" text-anchor="end">20</text>
<line x1="33.25" y1="338.46" x2="36.25" y2="338.46" stroke="#231f20" stroke-width="0.95"/>
<text transform="translate(30.30,340.61) scale(0.9,1)" font-size="6.0" text-anchor="end">40</text>
<line x1="33.25" y1="322.34" x2="36.25" y2="322.34" stroke="#231f20" stroke-width="0.95"/>
<text transform="translate(30.30,324.49) scale(0.9,1)" font-size="6.0" text-anchor="end">60</text>
<line x1="33.25" y1="306.22" x2="36.25" y2="306.22" stroke="#231f20" stroke-width="0.95"/>
<text transform="translate(30.30,308.37) scale(0.9,1)" font-size="6.0" text-anchor="end">80</text>
<line x1="33.25" y1="290.10" x2="36.25" y2="290.10" stroke="#231f20" stroke-width="0.95"/>
<text transform="translate(30.30,292.25) scale(0.9,1)" font-size="6.0" text-anchor="end">100</text>
<line x1="36.20" y1="370.70" x2="36.20" y2="373.50" stroke="#231f20" stroke-width="0.95"/>
<text transform="translate(36.20,382.00) scale(0.9,1)" font-size="6.0" text-anchor="middle">0</text>
<line x1="60.55" y1="370.70" x2="60.55" y2="373.50" stroke="#231f20" stroke-width="0.95"/>
<text transform="translate(60.55,382.00) scale(0.9,1)" font-size="6.0" text-anchor="middle">1</text>
<line x1="84.90" y1="370.70" x2="84.90" y2="373.50" stroke="#231f20" stroke-width="0.95"/>
<text transform="translate(84.90,382.00) scale(0.9,1)" font-size="6.0" text-anchor="middle">2</text>
<line x1="109.25" y1="370.70" x2="109.25" y2="373.50" stroke="#231f20" stroke-width="0.95"/>
<text transform="translate(109.25,382.00) scale(0.9,1)" font-size="6.0" text-anchor="middle">3</text>
<line x1="133.60" y1="370.70" x2="133.60" y2="373.50" stroke="#231f20" stroke-width="0.95"/>
<text transform="translate(133.60,382.00) scale(0.9,1)" font-size="6.0" text-anchor="middle">4</text>
<line x1="157.95" y1="370.70" x2="157.95" y2="373.50" stroke="#231f20" stroke-width="0.95"/>
<text transform="translate(157.95,382.00) scale(0.9,1)" font-size="6.0" text-anchor="middle">5</text>
<text x="97.90" y="393.80" font-size="8.6" text-anchor="middle" textLength="41.5" lengthAdjust="spacingAndGlyphs" stroke="#231f20" stroke-width="0.18">Time (years)</text>
<text x="14.10" y="329.10" font-size="8.6" text-anchor="middle" textLength="86.0" lengthAdjust="spacingAndGlyphs" transform="rotate(-90 14.10 329.10)" stroke="#231f20" stroke-width="0.18">Progression-free survival</text>
<polyline points="36.25,290.00 45.25,290.00 45.25,292.10 46.00,292.10 46.00,295.90 47.10,295.90 47.10,298.40 49.00,298.40 49.00,300.25 49.60,300.25 49.60,302.10 50.25,302.10 50.25,305.25 56.50,305.25 56.50,308.40 57.40,308.40 57.40,312.60 63.40,312.60 63.40,315.60 68.20,315.60 68.20,323.00 89.00,323.00 89.00,327.10 92.10,327.10 92.10,331.80 158.60,331.80" fill="none" stroke="#b5373a" stroke-width="0.95"/>
<polyline points="36.25,290.00 40.25,290.00 40.25,290.90 43.40,290.90 43.40,292.10 45.25,292.10 45.25,294.00 46.50,294.00 46.50,296.20 47.75,296.20 47.75,297.50 49.60,297.50 49.60,298.90 51.50,298.90 51.50,300.10 55.90,300.10 55.90,302.00 57.75,302.00 57.75,302.60 62.00,302.60 62.00,303.90 72.75,303.90 72.75,305.00 78.40,305.00 78.40,306.30 89.60,306.30 89.60,308.70 158.60,308.70" fill="none" stroke="#2d4a7c" stroke-width="0.95"/>
<polyline points="105.05,308.70 105.60,307.60 106.15,308.70" fill="none" stroke="#2d4a7c" stroke-width="0.55"/>
<polyline points="106.95,308.70 107.50,307.60 108.05,308.70" fill="none" stroke="#2d4a7c" stroke-width="0.55"/>
<polyline points="108.20,308.70 108.75,307.60 109.30,308.70" fill="none" stroke="#2d4a7c" stroke-width="0.55"/>
<polyline points="110.05,308.70 110.60,307.60 111.15,308.70" fill="none" stroke="#2d4a7c" stroke-width="0.55"/>
<polyline points="113.85,308.70 114.40,307.60 114.95,308.70" fill="none" stroke="#2d4a7c" stroke-width="0.55"/>
<polyline points="120.70,308.70 121.25,307.60 121.80,308.70" fill="none" stroke="#2d4a7c" stroke-width="0.55"/>
<polyline points="126.95,308.70 127.50,307.60 128.05,308.70" fill="none" stroke="#2d4a7c" stroke-width="0.55"/>
<polyline points="128.20,308.70 128.75,307.60 129.30,308.70" fill="none" stroke="#2d4a7c" stroke-width="0.55"/>
<polyline points="132.55,308.70 133.10,307.60 133.65,308.70" fill="none" stroke="#2d4a7c" stroke-width="0.55"/>
<polyline points="134.45,308.70 135.00,307.60 135.55,308.70" fill="none" stroke="#2d4a7c" stroke-width="0.55"/>
<polyline points="137.55,308.70 138.10,307.60 138.65,308.70" fill="none" stroke="#2d4a7c" stroke-width="0.55"/>
<polyline points="140.05,308.70 140.60,307.60 141.15,308.70" fill="none" stroke="#2d4a7c" stroke-width="0.55"/>
<polyline points="141.95,308.70 142.50,307.60 143.05,308.70" fill="none" stroke="#2d4a7c" stroke-width="0.55"/>
<polyline points="152.55,308.70 153.10,307.60 153.65,308.70" fill="none" stroke="#2d4a7c" stroke-width="0.55"/>
<polyline points="52.45,300.10 53.00,299.00 53.55,300.10" fill="none" stroke="#2d4a7c" stroke-width="0.55"/>
<polyline points="59.45,302.60 60.00,301.50 60.55,302.60" fill="none" stroke="#2d4a7c" stroke-width="0.55"/>
<polyline points="65.45,303.90 66.00,302.80 66.55,303.90" fill="none" stroke="#2d4a7c" stroke-width="0.55"/>
<polyline points="69.45,303.90 70.00,302.80 70.55,303.90" fill="none" stroke="#2d4a7c" stroke-width="0.55"/>
<polyline points="73.45,305.00 74.00,303.90 74.55,305.00" fill="none" stroke="#2d4a7c" stroke-width="0.55"/>
<polyline points="79.45,306.30 80.00,305.20 80.55,306.30" fill="none" stroke="#2d4a7c" stroke-width="0.55"/>
<polyline points="83.45,306.30 84.00,305.20 84.55,306.30" fill="none" stroke="#2d4a7c" stroke-width="0.55"/>
<polyline points="105.70,331.80 106.25,330.70 106.80,331.80" fill="none" stroke="#b5373a" stroke-width="0.55"/>
<polyline points="113.20,331.80 113.75,330.70 114.30,331.80" fill="none" stroke="#b5373a" stroke-width="0.55"/>
<polyline points="120.05,331.80 120.60,330.70 121.15,331.80" fill="none" stroke="#b5373a" stroke-width="0.55"/>
<polyline points="79.45,323.00 80.00,321.90 80.55,323.00" fill="none" stroke="#b5373a" stroke-width="0.55"/>
<path d="M160.1,308.4 H163 V332 H160.1" fill="none" stroke="#3a3a3a" stroke-width="1.05"/>
<text x="166.70" y="323.30" font-size="5.0" text-anchor="middle">*</text>
<polygon points="47.75,349 51.75,349 49.75,347" fill="#2d4a7c"/>
<polygon points="47.75,357.1 51.75,357.1 49.75,355.1" fill="#b5373a"/>
<text x="54.60" y="350.10" font-size="6.0" textLength="55.0" lengthAdjust="spacingAndGlyphs">PD-L1 Not altered (n=66)</text>
<text x="54.60" y="358.00" font-size="6.0" textLength="46.2" lengthAdjust="spacingAndGlyphs">PD-L1 Altered (n=26)</text>
<line x1="206.25" y1="290.40" x2="206.25" y2="371.30" stroke="#231f20" stroke-width="1.25"/>
<line x1="204.85" y1="370.80" x2="325.20" y2="370.80" stroke="#231f20" stroke-width="1.25"/>
<line x1="203.25" y1="370.80" x2="206.25" y2="370.80" stroke="#231f20" stroke-width="0.95"/>
<text transform="translate(200.30,372.95) scale(0.9,1)" font-size="6.0" text-anchor="end">0</text>
<line x1="203.25" y1="355.28" x2="206.25" y2="355.28" stroke="#231f20" stroke-width="0.95"/>
<text transform="translate(200.30,357.43) scale(0.9,1)" font-size="6.0" text-anchor="end">20</text>
<line x1="203.25" y1="339.76" x2="206.25" y2="339.76" stroke="#231f20" stroke-width="0.95"/>
<text transform="translate(200.30,341.91) scale(0.9,1)" font-size="6.0" text-anchor="end">40</text>
<line x1="203.25" y1="324.24" x2="206.25" y2="324.24" stroke="#231f20" stroke-width="0.95"/>
<text transform="translate(200.30,326.39) scale(0.9,1)" font-size="6.0" text-anchor="end">60</text>
<line x1="203.25" y1="308.72" x2="206.25" y2="308.72" stroke="#231f20" stroke-width="0.95"/>
<text transform="translate(200.30,310.87) scale(0.9,1)" font-size="6.0" text-anchor="end">80</text>
<line x1="203.25" y1="293.20" x2="206.25" y2="293.20" stroke="#231f20" stroke-width="0.95"/>
<text transform="translate(200.30,295.35) scale(0.9,1)" font-size="6.0" text-anchor="end">100</text>
<line x1="206.00" y1="370.80" x2="206.00" y2="373.60" stroke="#231f20" stroke-width="0.95"/>
<text transform="translate(206.00,382.00) scale(0.9,1)" font-size="6.0" text-anchor="middle">0</text>
<line x1="229.20" y1="370.80" x2="229.20" y2="373.60" stroke="#231f20" stroke-width="0.95"/>
<text transform="translate(229.20,382.00) scale(0.9,1)" font-size="6.0" text-anchor="middle">1</text>
<line x1="252.40" y1="370.80" x2="252.40" y2="373.60" stroke="#231f20" stroke-width="0.95"/>
<text transform="translate(252.40,382.00) scale(0.9,1)" font-size="6.0" text-anchor="middle">2</text>
<line x1="275.60" y1="370.80" x2="275.60" y2="373.60" stroke="#231f20" stroke-width="0.95"/>
<text transform="translate(275.60,382.00) scale(0.9,1)" font-size="6.0" text-anchor="middle">3</text>
<line x1="298.80" y1="370.80" x2="298.80" y2="373.60" stroke="#231f20" stroke-width="0.95"/>
<text transform="translate(298.80,382.00) scale(0.9,1)" font-size="6.0" text-anchor="middle">4</text>
<line x1="322.00" y1="370.80" x2="322.00" y2="373.60" stroke="#231f20" stroke-width="0.95"/>
<text transform="translate(322.00,382.00) scale(0.9,1)" font-size="6.0" text-anchor="middle">5</text>
<text x="265.00" y="393.80" font-size="8.6" text-anchor="middle" textLength="42.3" lengthAdjust="spacingAndGlyphs" stroke="#231f20" stroke-width="0.18">Time (years)</text>
<text x="184.20" y="330.70" font-size="8.6" text-anchor="middle" textLength="85.8" lengthAdjust="spacingAndGlyphs" transform="rotate(-90 184.20 330.70)" stroke="#231f20" stroke-width="0.18">Progression-free survival</text>
<polyline points="206.25,293.25 214.60,293.25 214.60,302.10 218.40,302.10 218.40,310.30 226.25,310.30 226.25,327.50 232.50,327.50 232.50,336.25 260.25,336.25 260.25,345.00 322.20,345.00" fill="none" stroke="#d8953f" stroke-width="0.95"/>
<polyline points="206.25,293.25 213.00,293.25 213.00,295.50 215.50,295.50 215.50,298.00 217.30,298.00 217.30,300.50 219.40,300.50 219.40,307.00 236.40,307.00 236.40,318.70 257.30,318.70 257.30,325.80 322.20,325.80" fill="none" stroke="#5a8dd3" stroke-width="0.95"/>
<polyline points="206.25,293.25 210.00,293.25 210.00,293.70 212.70,293.70 212.70,295.00 215.00,295.00 215.00,297.00 216.70,297.00 216.70,298.40 217.70,298.40 217.70,300.40 219.40,300.40 219.40,302.10 223.00,302.10 223.00,303.40 224.50,303.40 224.50,304.60 231.50,304.60 231.50,306.10 241.00,306.10 241.00,307.10 242.30,307.10 242.30,307.80 246.50,307.80 246.50,308.60 257.10,308.60 257.10,311.40 322.20,311.40" fill="none" stroke="#8db0e2" stroke-width="0.85"/>
<polyline points="271.95,311.40 272.50,310.30 273.05,311.40" fill="none" stroke="#8db0e2" stroke-width="0.55"/>
<polyline points="274.45,311.40 275.00,310.30 275.55,311.40" fill="none" stroke="#8db0e2" stroke-width="0.55"/>
<polyline points="276.35,311.40 276.90,310.30 277.45,311.40" fill="none" stroke="#8db0e2" stroke-width="0.55"/>
<polyline points="280.05,311.40 280.60,310.30 281.15,311.40" fill="none" stroke="#8db0e2" stroke-width="0.55"/>
<polyline points="286.95,311.40 287.50,310.30 288.05,311.40" fill="none" stroke="#8db0e2" stroke-width="0.55"/>
<polyline points="292.55,311.40 293.10,310.30 293.65,311.40" fill="none" stroke="#8db0e2" stroke-width="0.55"/>
<polyline points="293.85,311.40 294.40,310.30 294.95,311.40" fill="none" stroke="#8db0e2" stroke-width="0.55"/>
<polyline points="298.20,311.40 298.75,310.30 299.30,311.40" fill="none" stroke="#8db0e2" stroke-width="0.55"/>
<polyline points="299.45,311.40 300.00,310.30 300.55,311.40" fill="none" stroke="#8db0e2" stroke-width="0.55"/>
<polyline points="301.95,311.40 302.50,310.30 303.05,311.40" fill="none" stroke="#8db0e2" stroke-width="0.55"/>
<polyline points="303.85,311.40 304.40,310.30 304.95,311.40" fill="none" stroke="#8db0e2" stroke-width="0.55"/>
<polyline points="305.70,311.40 306.25,310.30 306.80,311.40" fill="none" stroke="#8db0e2" stroke-width="0.55"/>
<polyline points="306.95,311.40 307.50,310.30 308.05,311.40" fill="none" stroke="#8db0e2" stroke-width="0.55"/>
<polyline points="316.95,311.40 317.50,310.30 318.05,311.40" fill="none" stroke="#8db0e2" stroke-width="0.55"/>
<polyline points="221.55,302.10 222.10,301.00 222.65,302.10" fill="none" stroke="#8db0e2" stroke-width="0.55"/>
<polyline points="227.25,304.60 227.80,303.50 228.35,304.60" fill="none" stroke="#8db0e2" stroke-width="0.55"/>
<polyline points="228.95,304.60 229.50,303.50 230.05,304.60" fill="none" stroke="#8db0e2" stroke-width="0.55"/>
<polyline points="231.65,306.10 232.20,305.00 232.75,306.10" fill="none" stroke="#8db0e2" stroke-width="0.55"/>
<polyline points="232.65,306.10 233.20,305.00 233.75,306.10" fill="none" stroke="#8db0e2" stroke-width="0.55"/>
<polyline points="236.35,306.10 236.90,305.00 237.45,306.10" fill="none" stroke="#8db0e2" stroke-width="0.55"/>
<polyline points="237.75,306.10 238.30,305.00 238.85,306.10" fill="none" stroke="#8db0e2" stroke-width="0.55"/>
<polyline points="243.45,307.80 244.00,306.70 244.55,307.80" fill="none" stroke="#8db0e2" stroke-width="0.55"/>
<polyline points="249.45,308.60 250.00,307.50 250.55,308.60" fill="none" stroke="#8db0e2" stroke-width="0.55"/>
<polyline points="252.45,308.60 253.00,307.50 253.55,308.60" fill="none" stroke="#8db0e2" stroke-width="0.55"/>
<polyline points="278.85,325.80 279.40,324.70 279.95,325.80" fill="none" stroke="#5a8dd3" stroke-width="0.55"/>
<polyline points="286.35,325.80 286.90,324.70 287.45,325.80" fill="none" stroke="#5a8dd3" stroke-width="0.55"/>
<polyline points="239.45,318.70 240.00,317.60 240.55,318.70" fill="none" stroke="#5a8dd3" stroke-width="0.55"/>
<polyline points="249.45,318.70 250.00,317.60 250.55,318.70" fill="none" stroke="#5a8dd3" stroke-width="0.55"/>
<polyline points="261.45,325.80 262.00,324.70 262.55,325.80" fill="none" stroke="#5a8dd3" stroke-width="0.55"/>
<line x1="273.60" y1="344.00" x2="273.60" y2="345.00" stroke="#d8953f" stroke-width="0.6"/>
<path d="M324.4,311.5 H327.2 V325.2 L325.6,326 L327.2,326.8 V344 H324.4" fill="none" stroke="#3a3a3a" stroke-width="1.05"/>
<path d="M338.7,311.5 H341 V344 H338.7" fill="none" stroke="#3a3a3a" stroke-width="1.05"/>
<text x="333.80" y="320.30" font-size="5.0" text-anchor="middle" textLength="8.4" lengthAdjust="spacingAndGlyphs">N.S.</text>
<text x="333.80" y="337.60" font-size="5.0" text-anchor="middle" textLength="8.4" lengthAdjust="spacingAndGlyphs">N.S.</text>
<text x="344.80" y="329.20" font-size="5.0" text-anchor="middle">*</text>
<polygon points="210.8,350.50 214.8,350.50 212.8,348.50" fill="#8db0e2"/>
<text x="217.20" y="351.60" font-size="6.0" textLength="33.9" lengthAdjust="spacingAndGlyphs">Disomic (n=62)</text>
<polygon points="210.8,358.80 214.8,358.80 212.8,356.80" fill="#5a8dd3"/>
<text x="217.20" y="359.90" font-size="6.0" textLength="63.1" lengthAdjust="spacingAndGlyphs">Polysomic/Copy Gain (n=17)</text>
<polygon points="210.8,367.20 214.8,367.20 212.8,365.20" fill="#d8953f"/>
<text x="217.20" y="368.30" font-size="6.0" textLength="64.6" lengthAdjust="spacingAndGlyphs">Amplified/Translocated (n=9)</text>
</svg>
<div class="fl"></div><div class="fb"></div><div class="frame"></div>
</body></html>
